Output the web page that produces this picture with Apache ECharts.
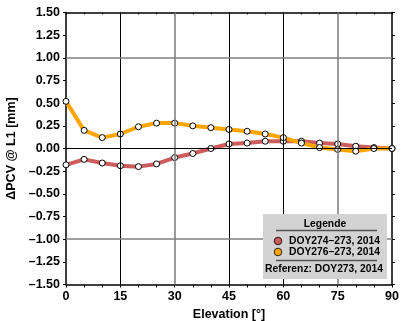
<!DOCTYPE html>
<html>
<head>
<meta charset="utf-8">
<script src="https://cdn.jsdelivr.net/npm/echarts@6/dist/echarts.min.js"></script>
<style>html,body{margin:0;padding:0;background:#fff;}#c{width:401px;height:321px;}</style>
</head>
<body>
<div id="c"></div>
<script>
var elevation = [0,5,10,15,20,25,30,35,40,45,50,55,60,65,70,75,80,85,90];
var doy274 = [-0.18,-0.12,-0.16,-0.19,-0.20,-0.17,-0.10,-0.055,0.00,0.05,0.06,0.08,0.08,0.08,0.06,0.05,0.025,0.01,0.00];
var doy276 = [0.52,0.20,0.12,0.16,0.24,0.28,0.28,0.25,0.23,0.21,0.19,0.16,0.12,0.06,0.01,-0.01,-0.03,0.00,0.00];
var seriesNames = ['DOY274\u2013273, 2014','DOY276\u2013273, 2014'];
var referenceText = 'Referenz: DOY273, 2014';
var legendTitle = 'Legende';
var xTitle = 'Elevation [\u00b0]';
var yTitle = '\u0394PCV @ L1 [mm]';
var vGrid = [[15,'#000',1],[30,'#808080',1.6],[45,'#000',1],[60,'#000',1],[75,'#808080',1.6]];
var hGrid = [[1,'#808080',1.6],[0,'#000',1],[-1,'#808080',1.6]];

var FONT = '"Liberation Sans", Arial, Helvetica, sans-serif';
var RED = '#cd5c5c', ORANGE = '#ffa500';
function pair(arr){ return elevation.map(function(e,i){return [e,arr[i]];}); }
var gridLines = [];
vGrid.forEach(function(g){ gridLines.push({xAxis:g[0], lineStyle:{color:g[1],width:g[2],type:'solid'}}); });
hGrid.forEach(function(g){ gridLines.push({yAxis:g[0], lineStyle:{color:g[1],width:g[2],type:'solid'}}); });

var chart = echarts.init(document.getElementById('c'));
var axLine = {show:true, onZero:false, lineStyle:{color:'#000', width:1.5}};
var lblStyle = {color:'#000', fontFamily:FONT, fontWeight:'bold', fontSize:12.5};
chart.setOption({
  animation:false,
  backgroundColor:'#fff',
  grid:{left:66, right:9, top:12.5, bottom:36.5, containLabel:false, outerBoundsMode:'none'},
  xAxis:[
    {type:'value', min:0, max:90, interval:15, position:'bottom',
     axisLine:axLine, axisTick:{show:true, length:3, lineStyle:{color:'#000',width:1}},
     minorTick:{show:true, splitNumber:3, length:3, lineStyle:{color:'#000',width:1}},
     axisLabel:Object.assign({margin:6}, lblStyle),
     splitLine:{show:false},
     name:xTitle, nameLocation:'middle', nameGap:24,
     nameTextStyle:{color:'#000', fontFamily:FONT, fontWeight:'bold', fontSize:12.5}},
    {type:'value', min:0, max:90, interval:5, position:'top',
     axisLine:axLine, axisTick:{show:true, inside:true, length:2, lineStyle:{color:'#000'}},
     axisLabel:{show:false}, splitLine:{show:false}}
  ],
  yAxis:[
    {type:'value', min:-1.5, max:1.5, interval:0.25, position:'left',
     axisLine:axLine, axisTick:{show:true, length:3, lineStyle:{color:'#000',width:1}},
     axisLabel:Object.assign({margin:6, formatter:function(v){return (v<0?'\u2013':'')+Math.abs(v).toFixed(2);}}, lblStyle),
     splitLine:{show:false},
     name:yTitle, nameLocation:'middle', nameGap:40, nameRotate:90,
     nameTextStyle:{color:'#000', fontFamily:FONT, fontWeight:'bold', fontSize:12.5}},
    {type:'value', min:-1.5, max:1.5, interval:0.25, position:'right',
     axisLine:axLine, axisTick:{show:true, length:3, lineStyle:{color:'#000'}},
     axisLabel:{show:false}, splitLine:{show:false}}
  ],
  series:[
    {type:'line', data:[], z:1, silent:true,
     markLine:{silent:true, symbol:['none','none'], label:{show:false}, data:gridLines}},
    {name:seriesNames[0], type:'line', data:pair(doy274), z:3,
     lineStyle:{color:RED, width:4}, symbol:'circle', symbolSize:6,
     itemStyle:{color:'#fff', borderColor:'#000', borderWidth:1}},
    {name:seriesNames[1], type:'line', data:pair(doy276), z:3,
     lineStyle:{color:ORANGE, width:4}, symbol:'circle', symbolSize:6,
     itemStyle:{color:'#fff', borderColor:'#000', borderWidth:1}}
  ],
  graphic:[
    {type:'rect', shape:{x:263, y:214, width:124, height:65}, style:{fill:'#d3d3d3'}, z:10},
    {type:'text', x:325, y:224, style:{text:legendTitle, fill:'#000', font:'bold 10.3px '+FONT, textAlign:'center', textVerticalAlign:'middle'}, z:11},
    {type:'line', shape:{x1:276, y1:230.5, x2:377, y2:230.5}, style:{stroke:'#555', lineWidth:1.5}, z:11},
    {type:'circle', shape:{cx:278, cy:241, r:3.8}, style:{fill:RED, stroke:'#000', lineWidth:0.8}, z:11},
    {type:'text', x:289, y:241, style:{text:seriesNames[0], fill:'#000', font:'bold 10.3px '+FONT, textAlign:'left', textVerticalAlign:'middle'}, z:11},
    {type:'circle', shape:{cx:278, cy:252, r:3.8}, style:{fill:ORANGE, stroke:'#000', lineWidth:0.8}, z:11},
    {type:'text', x:289, y:252, style:{text:seriesNames[1], fill:'#000', font:'bold 10.3px '+FONT, textAlign:'left', textVerticalAlign:'middle'}, z:11},
    {type:'line', shape:{x1:276, y1:260.5, x2:377, y2:260.5}, style:{stroke:'#555', lineWidth:1.5}, z:11},
    {type:'text', x:324, y:269.5, style:{text:referenceText, fill:'#000', font:'bold 10.3px '+FONT, textAlign:'center', textVerticalAlign:'middle'}, z:11}
  ]
});
</script>
</body>
</html>
